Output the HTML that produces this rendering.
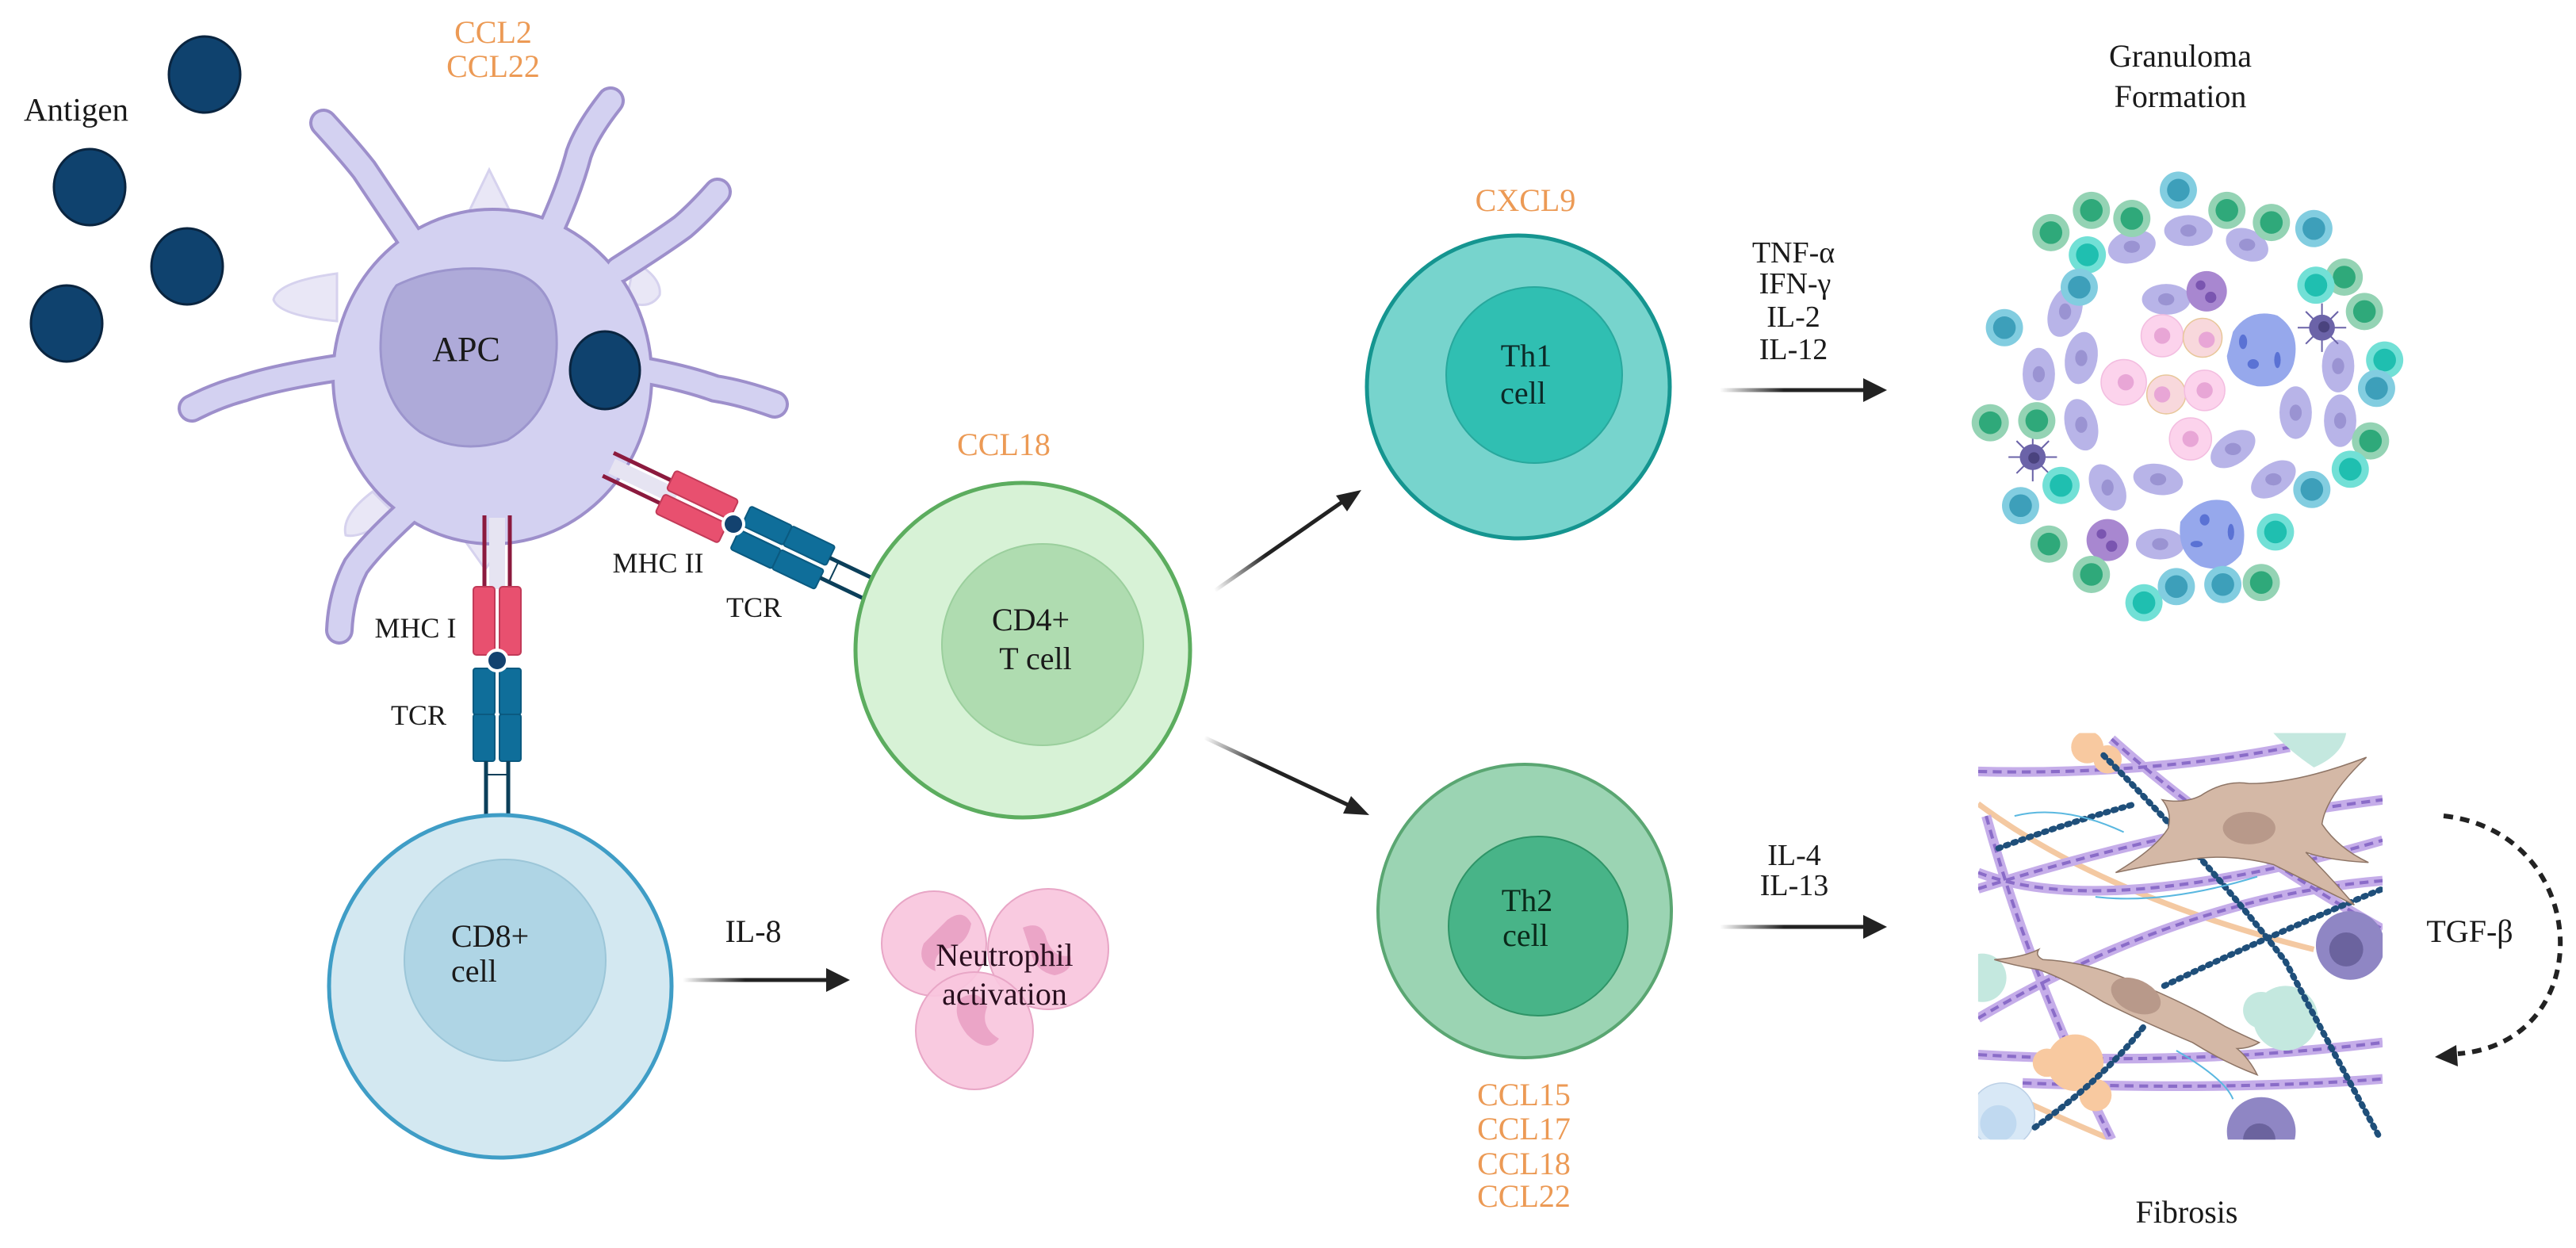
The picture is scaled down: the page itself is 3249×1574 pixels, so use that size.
<!DOCTYPE html>
<html><head><meta charset="utf-8">
<style>
html,body{margin:0;padding:0;background:#fff;}
svg{display:block;}
text{font-family:"Liberation Serif",serif;}
</style></head>
<body>
<svg width="3249" height="1574" viewBox="0 0 3249 1574" xmlns="http://www.w3.org/2000/svg">
<defs>
<linearGradient id="g1" gradientUnits="userSpaceOnUse" x1="1532" y1="745" x2="1600" y2="708"><stop offset="0" stop-color="#222" stop-opacity="0"/><stop offset="1" stop-color="#222"/></linearGradient>
<linearGradient id="g2" gradientUnits="userSpaceOnUse" x1="1519" y1="930" x2="1590" y2="963"><stop offset="0" stop-color="#222" stop-opacity="0"/><stop offset="1" stop-color="#222"/></linearGradient>
<linearGradient id="g3" gradientUnits="userSpaceOnUse" x1="861" y1="0" x2="940" y2="0"><stop offset="0" stop-color="#222" stop-opacity="0"/><stop offset="1" stop-color="#222"/></linearGradient>
<linearGradient id="g4" gradientUnits="userSpaceOnUse" x1="2169" y1="0" x2="2250" y2="0"><stop offset="0" stop-color="#222" stop-opacity="0"/><stop offset="1" stop-color="#222"/></linearGradient>
<clipPath id="fclip"><rect x="90" y="295" width="1000" height="1005"/></clipPath>
</defs>

<g fill="#0f426e" stroke="#0a2540" stroke-width="3">
<ellipse cx="258" cy="94" rx="45" ry="48"/>
<ellipse cx="113" cy="236" rx="45" ry="48"/>
<ellipse cx="236" cy="336" rx="45" ry="48"/>
<ellipse cx="84" cy="408" rx="45" ry="48"/>
</g>
<text x="96" y="152" font-size="41" text-anchor="middle" fill="#1a1a1a">Antigen</text>
<text x="622" y="54" font-size="40" text-anchor="middle" fill="#ec9a55">CCL2</text>
<text x="622" y="97" font-size="40" text-anchor="middle" fill="#ec9a55">CCL22</text>

<g fill="#e9e7f6" stroke="#d6d2ee" stroke-width="3">
<path d="M590,270 L617,214 L645,270 Z"/>
<path d="M425,345 Q350,355 345,378 Q352,398 425,405 Z"/>
<path d="M800,330 Q835,350 832,372 Q820,392 790,380 Z"/>
<path d="M470,620 Q430,650 436,675 Q455,680 500,650 Z"/>
<path d="M585,680 L612,718 L640,680 Z"/>
</g>
<g fill="none" stroke="#9d8fcb" stroke-linecap="round" stroke-width="36">
<path d="M408,155 Q440,190 459,214 Q480,245 530,320"/>
<path d="M770,127 Q740,165 730,194 Q718,240 690,300"/>
<path d="M905,242 Q880,270 861,286 Q835,305 780,340"/>
<path d="M977,510 Q935,495 902,490 Q860,475 800,465"/>
<path d="M242,515 Q275,498 306,490 Q350,475 440,462"/>
<path d="M520,640 Q470,685 449,714 Q430,750 428,795"/>
</g>
<ellipse cx="621" cy="475" rx="203" ry="213" fill="#9d8fcb"/>
<g fill="none" stroke="#d3d1f1" stroke-linecap="round" stroke-width="28">
<path d="M408,155 Q440,190 459,214 Q480,245 530,320"/>
<path d="M770,127 Q740,165 730,194 Q718,240 690,300"/>
<path d="M905,242 Q880,270 861,286 Q835,305 780,340"/>
<path d="M977,510 Q935,495 902,490 Q860,475 800,465"/>
<path d="M242,515 Q275,498 306,490 Q350,475 440,462"/>
<path d="M520,640 Q470,685 449,714 Q430,750 428,795"/>
</g>
<ellipse cx="621" cy="475" rx="199" ry="209" fill="#d3d1f1"/>
<path d="M500,360 Q560,330 640,342 Q705,355 702,440 Q698,520 640,555 Q580,575 530,545 Q482,510 480,440 Q480,385 500,360 Z" fill="#aeaad9" stroke="#9c95cd" stroke-width="3"/>
<text x="588" y="455" font-size="44" text-anchor="middle" fill="#1a1a1a">APC</text>
<ellipse cx="763" cy="467" rx="44" ry="49" fill="#0f426e" stroke="#0a2540" stroke-width="3"/>

<g transform="translate(925,661) rotate(25.5)">
<rect x="-170" y="-10" width="90" height="20" fill="#e6e4f2"/>
<line x1="-175" y1="-16" x2="-90" y2="-16" stroke="#8b1a3e" stroke-width="5"/>
<line x1="-175" y1="16" x2="-90" y2="16" stroke="#8b1a3e" stroke-width="5"/>
<rect x="-95" y="-30" width="88" height="27" rx="4" fill="#e8506f" stroke="#c23a58" stroke-width="2"/>
<rect x="-95" y="3" width="88" height="27" rx="4" fill="#e8506f" stroke="#c23a58" stroke-width="2"/>
<rect x="10" y="-30" width="58" height="27" rx="3" fill="#0f6e9a" stroke="#0b5a80" stroke-width="2"/>
<rect x="68" y="-30" width="60" height="27" rx="3" fill="#0f6e9a" stroke="#0b5a80" stroke-width="2"/>
<rect x="10" y="3" width="58" height="27" rx="3" fill="#0f6e9a" stroke="#0b5a80" stroke-width="2"/>
<rect x="68" y="3" width="60" height="27" rx="3" fill="#0f6e9a" stroke="#0b5a80" stroke-width="2"/>
<line x1="128" y1="-14" x2="230" y2="-14" stroke="#0b3f5a" stroke-width="5"/>
<line x1="128" y1="14" x2="230" y2="14" stroke="#0b3f5a" stroke-width="5"/>
<line x1="140" y1="-14" x2="140" y2="14" stroke="#0b3f5a" stroke-width="2"/>
<circle cx="0" cy="0" r="13" fill="#13426f" stroke="#fff" stroke-width="4"/>
</g>
<text x="830" y="722" font-size="36" text-anchor="middle" fill="#1a1a1a">MHC II</text>
<text x="951" y="778" font-size="36" text-anchor="middle" fill="#1a1a1a">TCR</text>

<g transform="translate(627,833) rotate(90)">
<rect x="-180" y="-10" width="90" height="20" fill="#e6e4f2"/>
<line x1="-183" y1="-16" x2="-90" y2="-16" stroke="#8b1a3e" stroke-width="5"/>
<line x1="-183" y1="16" x2="-90" y2="16" stroke="#8b1a3e" stroke-width="5"/>
<rect x="-93" y="-30" width="86" height="27" rx="4" fill="#e8506f" stroke="#c23a58" stroke-width="2"/>
<rect x="-93" y="3" width="86" height="27" rx="4" fill="#e8506f" stroke="#c23a58" stroke-width="2"/>
<rect x="10" y="-30" width="58" height="27" rx="3" fill="#0f6e9a" stroke="#0b5a80" stroke-width="2"/>
<rect x="68" y="-30" width="59" height="27" rx="3" fill="#0f6e9a" stroke="#0b5a80" stroke-width="2"/>
<rect x="10" y="3" width="58" height="27" rx="3" fill="#0f6e9a" stroke="#0b5a80" stroke-width="2"/>
<rect x="68" y="3" width="59" height="27" rx="3" fill="#0f6e9a" stroke="#0b5a80" stroke-width="2"/>
<line x1="127" y1="-14" x2="229" y2="-14" stroke="#0b3f5a" stroke-width="5"/>
<line x1="127" y1="14" x2="229" y2="14" stroke="#0b3f5a" stroke-width="5"/>
<line x1="144" y1="-14" x2="144" y2="14" stroke="#0b3f5a" stroke-width="2"/>
<circle cx="0" cy="0" r="13" fill="#13426f" stroke="#fff" stroke-width="4"/>
</g>
<text x="524" y="804" font-size="36" text-anchor="middle" fill="#1a1a1a">MHC I</text>
<text x="528" y="914" font-size="36" text-anchor="middle" fill="#1a1a1a">TCR</text>

<circle cx="631" cy="1244" r="216" fill="#d3e8f1" stroke="#3f9dc6" stroke-width="5"/>
<circle cx="637" cy="1211" r="127" fill="#afd5e5" stroke="#9cc6d8" stroke-width="2"/>
<text x="569" y="1194" font-size="40" fill="#1a1a1a">CD8+</text>
<text x="569" y="1238" font-size="40" fill="#1a1a1a">cell</text>

<text x="1266" y="574" font-size="40" text-anchor="middle" fill="#ec9a55">CCL18</text>
<circle cx="1290" cy="820" r="211" fill="#d7f2d6" stroke="#5cad5f" stroke-width="5"/>
<circle cx="1315" cy="813" r="127" fill="#afdcb0" stroke="#9bcf9d" stroke-width="2"/>
<text x="1300" y="795" font-size="40" text-anchor="middle" fill="#1a1a1a">CD4+</text>
<text x="1306" y="844" font-size="40" text-anchor="middle" fill="#1a1a1a">T cell</text>

<line x1="1532" y1="745" x2="1693" y2="633" stroke="url(#g1)" stroke-width="5"/>
<polygon points="1717,618 1685,625 1699,645" fill="#222"/>
<line x1="1519" y1="930" x2="1702" y2="1016" stroke="url(#g2)" stroke-width="5"/>
<polygon points="1727,1028 1704,1004 1694,1026" fill="#222"/>
<line x1="861" y1="1236" x2="1045" y2="1236" stroke="url(#g3)" stroke-width="5"/>
<polygon points="1072,1236 1042,1221 1042,1251" fill="#222"/>
<text x="950" y="1188" font-size="40" text-anchor="middle" fill="#1a1a1a">IL-8</text>

<g stroke="#e8a6c6" stroke-width="2" fill="#f8c6dd" fill-opacity="0.92">
<circle cx="1178" cy="1190" r="66"/>
<circle cx="1322" cy="1197" r="76"/>
<circle cx="1229" cy="1300" r="74"/>
</g>
<g fill="#e79bc0" opacity="0.8">
<path d="M1195,1160 q20,-15 30,5 q-5,25 -25,30 q-25,5 -20,30 q-25,-10 -15,-35 z"/>
<path d="M1290,1170 q25,-10 30,15 q10,25 30,20 q5,20 -20,25 q-25,-5 -30,-30 z"/>
<path d="M1210,1260 q25,-15 35,10 q-10,25 15,40 q-15,20 -40,-5 q-20,-25 -10,-45 z"/>
</g>
<text x="1267" y="1218" font-size="40" text-anchor="middle" fill="#2a0f1f">Neutrophil</text>
<text x="1267" y="1267" font-size="40" text-anchor="middle" fill="#2a0f1f">activation</text>

<text x="1924" y="266" font-size="40" text-anchor="middle" fill="#ec9a55">CXCL9</text>
<circle cx="1915" cy="488" r="191" fill="#77d4cd" stroke="#159590" stroke-width="5"/>
<circle cx="1935" cy="473" r="111" fill="#30bfb2" stroke="#28a89d" stroke-width="2"/>
<text x="1925" y="462" font-size="40" text-anchor="middle" fill="#0c2a28">Th1</text>
<text x="1921" y="509" font-size="40" text-anchor="middle" fill="#0c2a28">cell</text>
<g font-size="38" text-anchor="middle" fill="#1a1a1a">
<text x="2262" y="331">TNF-α</text>
<text x="2264" y="370">IFN-γ</text>
<text x="2262" y="412">IL-2</text>
<text x="2262" y="453">IL-12</text>
</g>
<line x1="2169" y1="492" x2="2352" y2="492" stroke="url(#g4)" stroke-width="5"/>
<polygon points="2380,492 2350,477 2350,507" fill="#222"/>

<circle cx="1923" cy="1149" r="185" fill="#9bd4b3" stroke="#5aa672" stroke-width="4"/>
<circle cx="1940" cy="1168" r="113" fill="#48b488" stroke="#2f9467" stroke-width="2"/>
<text x="1926" y="1149" font-size="40" text-anchor="middle" fill="#0a2a1a">Th2</text>
<text x="1924" y="1193" font-size="40" text-anchor="middle" fill="#0a2a1a">cell</text>
<g font-size="40" text-anchor="middle" fill="#ec9a55">
<text x="1922" y="1394">CCL15</text>
<text x="1922" y="1437">CCL17</text>
<text x="1922" y="1481">CCL18</text>
<text x="1922" y="1522">CCL22</text>
</g>
<g font-size="38" text-anchor="middle" fill="#1a1a1a">
<text x="2263" y="1091">IL-4</text>
<text x="2263" y="1129">IL-13</text>
</g>
<line x1="2169" y1="1169" x2="2352" y2="1169" stroke="url(#g4)" stroke-width="5"/>
<polygon points="2380,1169 2350,1154 2350,1184" fill="#222"/>

<text x="2750" y="84" font-size="40" text-anchor="middle" fill="#1a1a1a">Granuloma</text>
<text x="2750" y="135" font-size="40" text-anchor="middle" fill="#1a1a1a">Formation</text>
<g transform="translate(2449,0) scale(0.5102)">
<g fill="#b8b4e8">
<ellipse cx="470" cy="610" rx="60" ry="40" transform="rotate(-15 470 610)"/>
<ellipse cx="610" cy="570" rx="60" ry="38"/>
<ellipse cx="755" cy="605" rx="55" ry="38" transform="rotate(25 755 605)"/>
<ellipse cx="555" cy="740" rx="60" ry="38"/>
<ellipse cx="305" cy="770" rx="40" ry="65" transform="rotate(20 305 770)"/>
<ellipse cx="240" cy="925" rx="40" ry="65"/>
<ellipse cx="345" cy="885" rx="40" ry="65" transform="rotate(10 345 885)"/>
<ellipse cx="345" cy="1050" rx="40" ry="65" transform="rotate(-15 345 1050)"/>
<ellipse cx="410" cy="1205" rx="40" ry="62" transform="rotate(-30 410 1205)"/>
<ellipse cx="535" cy="1185" rx="62" ry="38" transform="rotate(10 535 1185)"/>
<ellipse cx="720" cy="1110" rx="62" ry="38" transform="rotate(-35 720 1110)"/>
<ellipse cx="820" cy="1185" rx="62" ry="38" transform="rotate(-35 820 1185)"/>
<ellipse cx="875" cy="1020" rx="40" ry="65"/>
<ellipse cx="980" cy="905" rx="40" ry="65"/>
<ellipse cx="985" cy="1040" rx="40" ry="65"/>
<ellipse cx="540" cy="1345" rx="60" ry="38"/>
</g>
<g fill="#9a93d2">
<ellipse cx="470" cy="610" rx="20" ry="15"/><ellipse cx="610" cy="570" rx="20" ry="15"/><ellipse cx="755" cy="605" rx="20" ry="15"/><ellipse cx="555" cy="740" rx="20" ry="15"/><ellipse cx="305" cy="770" rx="15" ry="20"/><ellipse cx="240" cy="925" rx="15" ry="20"/><ellipse cx="345" cy="885" rx="15" ry="20"/><ellipse cx="345" cy="1050" rx="15" ry="20"/><ellipse cx="410" cy="1205" rx="15" ry="20"/><ellipse cx="535" cy="1185" rx="20" ry="15"/><ellipse cx="720" cy="1110" rx="20" ry="15"/><ellipse cx="820" cy="1185" rx="20" ry="15"/><ellipse cx="875" cy="1020" rx="15" ry="20"/><ellipse cx="980" cy="905" rx="15" ry="20"/><ellipse cx="985" cy="1040" rx="15" ry="20"/><ellipse cx="540" cy="1345" rx="20" ry="15"/>
</g>
<g fill="#fcd3ec" stroke="#f3bde0" stroke-width="3">
<circle cx="545" cy="830" r="52"/><circle cx="645" cy="835" r="48" fill="#f8d8dc" stroke="#e8c79a"/><circle cx="450" cy="945" r="56"/><circle cx="555" cy="975" r="48" fill="#f8d8dc" stroke="#e8c79a"/><circle cx="650" cy="965" r="50"/><circle cx="615" cy="1085" r="52"/>
</g>
<g fill="#e8a6d6"><circle cx="545" cy="830" r="20"/><circle cx="655" cy="840" r="20"/><circle cx="455" cy="945" r="20"/><circle cx="545" cy="975" r="20"/><circle cx="650" cy="965" r="20"/><circle cx="615" cy="1085" r="20"/></g>
<g fill="#96a8ec"><path d="M720,820 Q760,760 830,780 Q890,820 870,900 Q850,960 780,955 Q710,940 705,880 Z"/><path d="M590,1290 Q640,1220 710,1240 Q765,1290 740,1370 Q700,1420 640,1400 Q580,1370 590,1290 Z"/></g>
<g fill="#5a72d4"><ellipse cx="745" cy="845" rx="10" ry="18"/><ellipse cx="770" cy="900" rx="14" ry="12"/><ellipse cx="830" cy="890" rx="8" ry="20"/><ellipse cx="650" cy="1285" rx="12" ry="14"/><ellipse cx="715" cy="1315" rx="8" ry="20"/><ellipse cx="630" cy="1345" rx="15" ry="8"/></g>
<g fill="#a887d0"><circle cx="655" cy="720" r="50"/><circle cx="410" cy="1335" r="52"/></g>
<g fill="#7a55b0"><circle cx="640" cy="705" r="12"/><circle cx="665" cy="735" r="14"/><circle cx="395" cy="1320" r="12"/><circle cx="420" cy="1350" r="14"/></g>
<g stroke="#6b63a8" stroke-width="4"><path d="M940,750 V870 M880,810 H1000 M900,770 L980,850 M980,770 L900,850"/><path d="M225,1070 V1190 M165,1130 H285 M185,1090 L265,1170 M265,1090 L185,1170"/></g>
<g fill="#6b63a8"><circle cx="940" cy="810" r="32"/><circle cx="225" cy="1130" r="32"/></g>
<g fill="#4a437e"><circle cx="945" cy="808" r="14"/><circle cx="228" cy="1132" r="14"/></g>
<g fill="#94d3b4"><circle cx="270" cy="575" r="46"/><circle cx="370" cy="520" r="46"/><circle cx="470" cy="540" r="46"/><circle cx="705" cy="520" r="46"/><circle cx="815" cy="550" r="46"/><circle cx="995" cy="685" r="46"/><circle cx="1045" cy="770" r="46"/><circle cx="1060" cy="1090" r="46"/><circle cx="120" cy="1045" r="46"/><circle cx="235" cy="1040" r="46"/><circle cx="265" cy="1345" r="46"/><circle cx="370" cy="1420" r="46"/><circle cx="790" cy="1440" r="46"/></g>
<g fill="#2fa97a"><circle cx="270" cy="575" r="28"/><circle cx="370" cy="520" r="28"/><circle cx="470" cy="540" r="28"/><circle cx="705" cy="520" r="28"/><circle cx="815" cy="550" r="28"/><circle cx="995" cy="685" r="28"/><circle cx="1045" cy="770" r="28"/><circle cx="1060" cy="1090" r="28"/><circle cx="120" cy="1045" r="28"/><circle cx="235" cy="1040" r="28"/><circle cx="265" cy="1345" r="28"/><circle cx="370" cy="1420" r="28"/><circle cx="790" cy="1440" r="28"/></g>
<g fill="#72e0d6"><circle cx="360" cy="630" r="46"/><circle cx="925" cy="705" r="46"/><circle cx="1095" cy="890" r="46"/><circle cx="1010" cy="1160" r="46"/><circle cx="295" cy="1200" r="46"/><circle cx="500" cy="1490" r="46"/><circle cx="825" cy="1315" r="46"/></g>
<g fill="#1fbfb0"><circle cx="360" cy="630" r="28"/><circle cx="925" cy="705" r="28"/><circle cx="1095" cy="890" r="28"/><circle cx="1010" cy="1160" r="28"/><circle cx="295" cy="1200" r="28"/><circle cx="500" cy="1490" r="28"/><circle cx="825" cy="1315" r="28"/></g>
<g fill="#82cde0"><circle cx="585" cy="470" r="46"/><circle cx="920" cy="565" r="46"/><circle cx="340" cy="710" r="46"/><circle cx="155" cy="810" r="46"/><circle cx="1075" cy="960" r="46"/><circle cx="915" cy="1210" r="46"/><circle cx="195" cy="1250" r="46"/><circle cx="580" cy="1450" r="46"/><circle cx="695" cy="1445" r="46"/></g>
<g fill="#3d9fba"><circle cx="585" cy="470" r="28"/><circle cx="920" cy="565" r="28"/><circle cx="340" cy="710" r="28"/><circle cx="155" cy="810" r="28"/><circle cx="1075" cy="960" r="28"/><circle cx="915" cy="1210" r="28"/><circle cx="195" cy="1250" r="28"/><circle cx="580" cy="1450" r="28"/><circle cx="695" cy="1445" r="28"/></g>
</g>

<g transform="translate(2449,774) scale(0.5102)">
<g clip-path="url(#fclip)">
<rect x="90" y="295" width="1000" height="1005" fill="#fff"/>
<g fill="none" stroke="#f4c9a2" stroke-width="14">
<path d="M90,470 Q400,700 920,830"/><path d="M150,1180 Q300,1250 420,1300"/>
</g>
<g fill="none" stroke-width="24" stroke="#c5ade9">
<path d="M90,390 Q500,400 860,330"/>
<path d="M90,680 Q600,520 1090,460"/>
<path d="M90,640 Q400,760 1090,560"/>
<path d="M90,1000 Q600,700 1090,660"/>
<path d="M90,1090 Q600,1120 1090,1060"/>
<path d="M200,1160 Q700,1180 1090,1150"/>
<path d="M110,500 Q220,900 420,1300"/>
<path d="M420,310 Q700,560 1090,780"/>
</g>
<g fill="none" stroke-width="8" stroke="#8a6cc8" stroke-dasharray="22 14">
<path d="M90,390 Q500,400 860,330"/>
<path d="M90,680 Q600,520 1090,460"/>
<path d="M90,640 Q400,760 1090,560"/>
<path d="M90,1000 Q600,700 1090,660"/>
<path d="M90,1090 Q600,1120 1090,1060"/>
<path d="M200,1160 Q700,1180 1090,1150"/>
<path d="M110,500 Q220,900 420,1300"/>
<path d="M420,310 Q700,560 1090,780"/>
</g>
<g fill="#f8c9a0"><circle cx="360" cy="330" r="40"/><circle cx="410" cy="360" r="35"/><circle cx="330" cy="1110" r="70"/><circle cx="260" cy="1110" r="35"/><circle cx="380" cy="1190" r="40"/></g>
<g fill="#c4e8df"><path d="M820,295 H1000 Q990,350 920,380 Q860,340 820,295 Z"/><circle cx="850" cy="1000" r="80"/><circle cx="790" cy="980" r="45"/><circle cx="100" cy="900" r="60"/></g>
<circle cx="150" cy="1240" r="80" fill="#d8e8f6" stroke="#bcd0e6" stroke-width="3"/>
<circle cx="140" cy="1260" r="45" fill="#c0d9f0"/>
<g fill="none" stroke="#1f4f7a" stroke-width="15" stroke-dasharray="6 14" stroke-linecap="round">
<path d="M400,350 Q650,600 850,860 Q950,1050 1080,1290"/>
<path d="M140,580 Q300,520 480,470"/>
<path d="M550,920 Q800,800 1090,680"/>
<path d="M230,1270 Q400,1150 500,1020"/>
</g>
<g fill="#d4b8a6" stroke="#8e7566" stroke-width="3">
<path d="M545,460 Q600,470 640,450 Q700,410 760,420 Q880,420 1050,355 Q950,450 940,520 Q980,580 1055,615 Q960,610 900,590 Q960,650 1020,720 Q900,660 820,620 Q700,590 600,610 Q520,620 430,640 Q530,580 560,530 Q570,490 545,460 Z"/>
<path d="M130,855 Q200,850 240,830 Q230,845 250,855 Q350,860 450,900 Q600,960 700,1020 Q740,1040 785,1060 Q760,1075 730,1075 Q760,1100 780,1140 Q700,1110 620,1060 Q500,1010 400,960 Q300,900 240,880 Q180,870 130,855 Z"/>
</g>
<g fill="#b8998a"><ellipse cx="760" cy="530" rx="65" ry="40"/><ellipse cx="480" cy="945" rx="65" ry="40" transform="rotate(25 480 945)"/></g>
<g fill="#8f86c4"><circle cx="1010" cy="820" r="85"/><circle cx="790" cy="1280" r="85"/></g>
<g fill="#6b639e"><circle cx="1000" cy="830" r="42"/><circle cx="785" cy="1300" r="40"/></g>
<g fill="none" stroke="#5ab8e0" stroke-width="4">
<path d="M180,500 Q300,470 450,540"/><path d="M380,700 Q550,720 780,650"/><path d="M580,1080 Q700,1150 720,1200"/>
</g>
</g>
</g>
<text x="3115" y="1188" font-size="40" text-anchor="middle" fill="#1a1a1a">TGF-β</text>
<text x="2758" y="1542" font-size="40" text-anchor="middle" fill="#1a1a1a">Fibrosis</text>
<path d="M3082,1029 C3270,1050 3280,1315 3100,1329" fill="none" stroke="#222" stroke-width="6" stroke-dasharray="12 9"/>
<polygon points="3071,1333 3098,1318 3100,1345" fill="#222"/>
</svg>
</body></html>
